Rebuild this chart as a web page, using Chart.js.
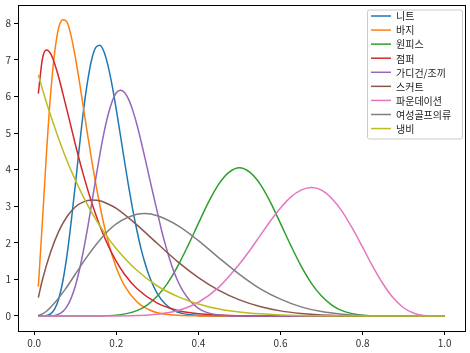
<!DOCTYPE html>
<html>
<head>
<meta charset="utf-8">
<script src="https://cdn.jsdelivr.net/npm/chart.js@4"></script>
<style>
  html, body { margin: 0; padding: 0; background: #fff; }
  canvas { display: block; }
</style>
</head>
<body>
<canvas id="chart" width="470" height="353"></canvas>
<script>
// Series names (legend order)
const seriesNames = ['니트', '바지', '원피스', '점퍼', '가디건/조끼', '스커트', '파운데이션', '여성골프의류', '냉비'];
const seriesColors = ['#1f77b4', '#ff7f0e', '#2ca02c', '#d62728', '#9467bd', '#8c564b', '#e377c2', '#7f7f7f', '#bcbd22'];

// Values, one x/y pair of arrays per series
const knitX = [0.01, 0.02, 0.03, 0.04, 0.05, 0.06, 0.07, 0.08, 0.09, 0.10, 0.11, 0.12, 0.13, 0.14, 0.15, 0.16, 0.17, 0.18, 0.19, 0.20, 0.21, 0.22, 0.23, 0.24, 0.25, 0.26, 0.27, 0.28, 0.30, 0.32, 0.34, 0.36, 0.38, 0.40, 0.45, 0.50, 1.0];
const knitY = [0, 0.001, 0.011, 0.059, 0.195, 0.48, 0.97, 1.67, 2.57, 3.57, 4.62, 5.61, 6.41, 7.01, 7.34, 7.40, 7.22, 6.83, 6.29, 5.64, 4.94, 4.23, 3.54, 2.91, 2.35, 1.85, 1.44, 1.10, 0.61, 0.32, 0.157, 0.072, 0.031, 0.013, 0.001, 0, 0];

const pantsX = [0.01, 0.02, 0.03, 0.04, 0.05, 0.06, 0.07, 0.08, 0.09, 0.10, 0.11, 0.12, 0.13, 0.14, 0.15, 0.16, 0.17, 0.18, 0.19, 0.20, 0.22, 0.25, 0.28, 0.30, 0.35, 0.40, 0.50, 0.60, 0.80, 1.0];
const pantsY = [0.80, 2.59, 4.47, 6.07, 7.22, 7.90, 8.10, 8.03, 7.65, 7.08, 6.41, 5.68, 4.96, 4.26, 3.61, 3.02, 2.49, 2.04, 1.65, 1.32, 0.83, 0.39, 0.17, 0.09, 0.018, 0.003, 0, 0, 0, 0];

const dressX = [0.01, 0.10, 0.15, 0.20, 0.25, 0.275, 0.30, 0.325, 0.35, 0.375, 0.40, 0.425, 0.45, 0.475, 0.50, 0.525, 0.55, 0.575, 0.60, 0.625, 0.65, 0.675, 0.70, 0.725, 0.75, 0.80, 0.85, 0.90, 1.0];
const dressY = [0, 0, 0.002, 0.024, 0.148, 0.30, 0.545, 0.90, 1.37, 1.93, 2.53, 3.12, 3.61, 3.93, 4.05, 3.93, 3.61, 3.12, 2.53, 1.93, 1.37, 0.90, 0.545, 0.30, 0.148, 0.024, 0.002, 0, 0];

const jumperX = [0.01, 0.02, 0.03, 0.04, 0.05, 0.06, 0.07, 0.08, 0.09, 0.10, 0.12, 0.14, 0.16, 0.18, 0.20, 0.22, 0.25, 0.30, 0.35, 0.40, 0.50, 0.60, 0.80, 1.0];
const jumperY = [6.08, 7.03, 7.27, 7.17, 6.89, 6.51, 6.07, 5.62, 5.16, 4.70, 3.85, 3.10, 2.46, 1.93, 1.49, 1.14, 0.75, 0.35, 0.15, 0.06, 0.008, 0, 0, 0];

const cardiganX = [0.01, 0.04, 0.05, 0.06, 0.07, 0.08, 0.09, 0.10, 0.11, 0.12, 0.13, 0.14, 0.15, 0.16, 0.17, 0.18, 0.19, 0.20, 0.21, 0.22, 0.23, 0.24, 0.25, 0.26, 0.27, 0.28, 0.29, 0.30, 0.31, 0.32, 0.33, 0.34, 0.35, 0.36, 0.38, 0.40, 0.42, 0.45, 0.50, 1.0];
const cardiganY = [0, 0.004, 0.016, 0.050, 0.126, 0.264, 0.489, 0.815, 1.25, 1.79, 2.40, 3.07, 3.76, 4.42, 5.01, 5.50, 5.87, 6.10, 6.17, 6.11, 5.92, 5.62, 5.24, 4.79, 4.31, 3.81, 3.32, 2.84, 2.35, 1.93, 1.55, 1.22, 0.95, 0.73, 0.41, 0.21, 0.10, 0.03, 0.003, 0];

const skirtX = [0.01, 0.02, 0.04, 0.06, 0.08, 0.10, 0.12, 0.14, 0.16, 0.18, 0.20, 0.25, 0.30, 0.35, 0.40, 0.45, 0.50, 0.55, 0.60, 0.65, 0.70, 0.80, 0.90, 1.0];
const skirtY = [0.50, 0.99, 1.75, 2.32, 2.72, 2.98, 3.12, 3.17, 3.15, 3.06, 2.94, 2.49, 1.98, 1.48, 1.05, 0.70, 0.44, 0.26, 0.14, 0.07, 0.03, 0.003, 0, 0];

const foundationX = [0.01, 0.20, 0.25, 0.30, 0.35, 0.40, 0.45, 0.50, 0.525, 0.55, 0.575, 0.60, 0.625, 0.65, 0.675, 0.70, 0.725, 0.75, 0.775, 0.80, 0.825, 0.85, 0.875, 0.90, 0.925, 0.95, 1.0];
const foundationY = [0, 0.002, 0.011, 0.046, 0.148, 0.376, 0.79, 1.42, 1.79, 2.19, 2.59, 2.95, 3.25, 3.44, 3.51, 3.44, 3.21, 2.86, 2.40, 1.88, 1.35, 0.875, 0.49, 0.226, 0.076, 0.015, 0];

const golfX = [0.01, 0.02, 0.03, 0.05, 0.075, 0.10, 0.125, 0.15, 0.175, 0.20, 0.25, 0.27, 0.30, 0.35, 0.40, 0.45, 0.50, 0.55, 0.60, 0.65, 0.70, 0.75, 0.80, 0.85, 0.90, 1.0];
const golfY = [0.014, 0.06, 0.13, 0.36, 0.72, 1.14, 1.56, 1.94, 2.27, 2.52, 2.78, 2.80, 2.74, 2.47, 2.06, 1.59, 1.14, 0.75, 0.46, 0.25, 0.12, 0.05, 0.015, 0.003, 0, 0];

const naengbiX = [0.01, 0.02, 0.03, 0.05, 0.075, 0.10, 0.125, 0.15, 0.175, 0.20, 0.25, 0.30, 0.35, 0.40, 0.45, 0.50, 0.55, 0.60, 0.70, 0.80, 1.0];
const naengbiY = [6.59, 6.20, 5.83, 5.15, 4.38, 3.72, 3.14, 2.64, 2.21, 1.84, 1.25, 0.82, 0.53, 0.33, 0.19, 0.11, 0.06, 0.03, 0.005, 0, 0];

// Tick labels
const xTicks = [0.0, 0.2, 0.4, 0.6, 0.8, 1.0];
const yTicks = [0, 1, 2, 3, 4, 5, 6, 7, 8];

const seriesX = [knitX, pantsX, dressX, jumperX, cardiganX, skirtX, foundationX, golfX, naengbiX];
const seriesY = [knitY, pantsY, dressY, jumperY, cardiganY, skirtY, foundationY, golfY, naengbiY];

const FONT = '"Noto Sans CJK KR", "Noto Sans", sans-serif';

// Build datasets; later series drawn on top like matplotlib
const datasets = seriesNames.map((name, i) => ({
  label: name,
  data: seriesX[i].map((x, j) => ({ x, y: seriesY[i][j] })),
  borderColor: seriesColors[i],
  backgroundColor: seriesColors[i],
  borderWidth: 1.5,
  pointRadius: 0,
  fill: false,
  cubicInterpolationMode: 'monotone',
  order: seriesNames.length - i
}));

// Full box around the plot area
const framePlugin = {
  id: 'frame',
  afterDatasetsDraw(chart) {
    const { ctx, chartArea: a } = chart;
    ctx.save();
    ctx.strokeStyle = '#000';
    ctx.lineWidth = 1;
    ctx.strokeRect(Math.round(a.left) + 0.5, Math.round(a.top) + 0.5, Math.round(a.right - a.left), Math.round(a.bottom - a.top));
    ctx.restore();
  }
};

// Legend box in the upper right, drawn like matplotlib's
const legendPlugin = {
  id: 'boxLegend',
  afterDraw(chart) {
    const ctx = chart.ctx;
    const x0 = 367, y0 = 9.5, w = 95, h = 129;
    ctx.save();
    ctx.fillStyle = 'rgba(255,255,255,0.85)';
    ctx.strokeStyle = '#cccccc';
    ctx.lineWidth = 1;
    ctx.beginPath();
    ctx.roundRect(x0 + 0.5, y0 + 0.5, w, h, 2);
    ctx.fill();
    ctx.stroke();
    ctx.font = '10px ' + FONT;
    ctx.textBaseline = 'middle';
    ctx.textAlign = 'left';
    chart.data.datasets.forEach((ds, i) => {
      const cy = 16 + i * 14.07;
      ctx.strokeStyle = ds.borderColor;
      ctx.lineWidth = 1.5;
      ctx.beginPath();
      ctx.moveTo(371, cy);
      ctx.lineTo(391, cy);
      ctx.stroke();
      ctx.fillStyle = '#222';
      ctx.fillText(ds.label, 396, cy + 0.5);
    });
    ctx.restore();
  }
};

new Chart(document.getElementById('chart'), {
  type: 'line',
  data: { datasets },
  options: {
    responsive: false,
    animation: false,
    events: [],
    layout: { padding: { top: 5, right: 5, left: 0, bottom: 0 } },
    plugins: {
      legend: { display: false },
      tooltip: { enabled: false }
    },
    scales: {
      x: {
        type: 'linear',
        min: -0.0395,
        max: 1.0495,
        afterBuildTicks: scale => { scale.ticks = xTicks.map(v => ({ value: v })); },
        afterFit: scale => { scale.height = 22; scale.paddingLeft = 0; scale.paddingRight = 0; },
        ticks: {
          callback: v => Number(v).toFixed(1),
          font: { family: FONT, size: 10 },
          color: '#333',
          padding: 2,
          maxRotation: 0
        },
        grid: { display: true, drawOnChartArea: false, drawTicks: true, tickLength: 4, color: '#000' },
        border: { display: true, color: '#000', width: 1 }
      },
      y: {
        type: 'linear',
        min: -0.41,
        max: 8.5,
        afterBuildTicks: scale => { scale.ticks = yTicks.map(v => ({ value: v })); },
        afterFit: scale => { scale.width = 18; scale.paddingTop = 0; scale.paddingBottom = 0; },
        ticks: {
          callback: v => String(v),
          font: { family: FONT, size: 10 },
          color: '#333',
          padding: 3
        },
        grid: { display: true, drawOnChartArea: false, drawTicks: true, tickLength: 4, color: '#000' },
        border: { display: true, color: '#000', width: 1 }
      }
    }
  },
  plugins: [framePlugin, legendPlugin]
});
</script>
</body>
</html>
